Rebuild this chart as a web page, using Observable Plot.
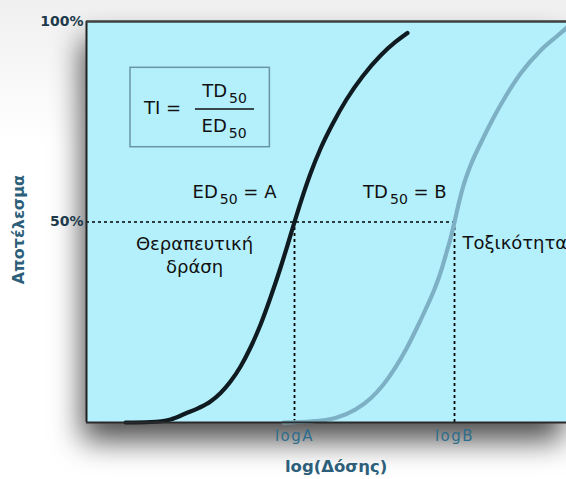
<!DOCTYPE html>
<html>
<head>
<meta charset="utf-8">
<script src="https://cdn.jsdelivr.net/npm/d3@7"></script>
<script src="https://cdn.jsdelivr.net/npm/@observablehq/plot@0.6"></script>
<style>
  html, body { margin: 0; padding: 0; background: #fff; }
  #chart { width: 566px; height: 479px; overflow: hidden; background: linear-gradient(#f0f0f0, #fff 30%); }
  #chart svg { display: block; overflow: hidden; }
  #chart .spaced text { letter-spacing: 1.5px; }
</style>
</head>
<body>
<div id="chart"></div>
<script>
// Log-dose scale: logA = 10, logB = 20 (arbitrary units); effect in percent.
const ed50 = 10;
const td50 = 20;

// Therapeutic effect curve
const effectDose = [-0.56, 1.0, 2.25, 3.19, 4.0, 4.75, 5.38, 6.0, 6.63, 7.25, 7.88, 8.5, 9.13, 9.56, 10, 10.44, 11.0, 11.63, 12.38, 13.25, 14.25, 15.38, 16.31, 17.06];
const effectPct  = [0, 0.12, 0.75, 2.24, 3.59, 5.24, 7.36, 10.22, 13.97, 18.7, 24.44, 31.17, 38.65, 44.14, 50, 55.59, 62.09, 68.33, 74.44, 80.55, 86.28, 91.52, 94.89, 97.13];

// Toxicity curve
const toxDose = [9.31, 11.0, 12.56, 13.81, 14.75, 15.56, 16.31, 17.0, 17.63, 18.19, 18.69, 19.13, 19.5, 19.75, 20, 20.25, 20.56, 21.0, 21.63, 22.38, 23.19, 24.13, 25.38, 26.38, 27.25];
const toxPct  = [0, 0.25, 1.12, 3.24, 5.99, 9.48, 13.72, 18.45, 23.44, 28.18, 32.67, 37.41, 42.39, 45.89, 50, 54.36, 59.1, 64.09, 69.58, 75.56, 81.3, 87.03, 92.77, 96.26, 99.25];

// Axis ticks
const xTicks = [ed50, td50];
const xTickLabels = ["logA", "logB"];
const yTicks = [50, 100];
const yTickLabels = ["50%", "100%"];

// Centred annotations ("_50" is set as a subscript)
const noteText = ["TI =", "TD_50", "ED_50", "ED_50 = A", "TD_50 = B", "Θεραπευτική\nδράση"];
const noteX    = [1.75, 5.63, 5.6, 6.25, 16.9, 3.75];
const noteY    = [78.8, 82.9, 74.2, 57.9, 57.9, 41.9];
// Left-aligned annotation
const toxLabel = {text: "Τοξικότητα", x: 20.5, y: 44.6};

// Formula box and fraction bar
const formulaBox = [{x1: -0.25, x2: 8.46, y1: 68.65, y2: 88.45}];
const fractionBar = {y: 78.2, x1: 3.81, x2: 7.5};

const xMin = -3, xMax = 27;

const effect = effectDose.map((x, i) => ({x, y: effectPct[i]}));
const tox = toxDose.map((x, i) => ({x, y: toxPct[i]}));
const notes = noteText.map((text, i) => ({text, x: noteX[i], y: noteY[i]}));

const font = "'DejaVu Sans', Verdana, sans-serif";

const chart = Plot.plot({
  width: 566,
  height: 479,
  marginLeft: 86,
  marginRight: 0,
  marginTop: 21,
  marginBottom: 57,
  style: {fontFamily: font, fontSize: "16px", background: "transparent", overflow: "hidden"},
  x: {domain: [xMin, xMax]},
  y: {domain: [0, 100]},
  marks: [
    Plot.frame({fill: "#b4f0fc", stroke: null}),
    // 50% reference lines
    Plot.ruleY([50], {x1: xMin, x2: td50, stroke: "#000", strokeWidth: 1.6, strokeDasharray: "3,3"}),
    Plot.ruleX(xTicks, {y1: 0, y2: 50, stroke: "#000", strokeWidth: 1.8, strokeDasharray: "3,3"}),
    // dose-response curves
    Plot.line(tox, {x: "x", y: "y", curve: "monotone-x", stroke: "#7db0c4", strokeWidth: 4.2}),
    Plot.line(effect, {x: "x", y: "y", curve: "monotone-x", stroke: "#0f1b20", strokeWidth: 4.2}),
    // plot border (left, bottom, top)
    Plot.ruleX([xMin], {stroke: "#222", strokeWidth: 2}),
    Plot.ruleY([0], {stroke: "#2a2a2a", strokeWidth: 2}),
    Plot.ruleY([100], {stroke: "#3f3f3f", strokeWidth: 2.5}),
    // therapeutic index formula
    Plot.rect(formulaBox, {x1: "x1", x2: "x2", y1: "y1", y2: "y2", fill: "none", stroke: "#6a95a4", strokeWidth: 1.5}),
    Plot.ruleY([fractionBar.y], {x1: fractionBar.x1, x2: fractionBar.x2, stroke: "#111", strokeWidth: 1.5}),
    Plot.text(notes, {x: "x", y: "y", text: "text", textAnchor: "middle", fill: "#111", fontSize: 18, lineHeight: 1.25}),
    Plot.text([toxLabel], {x: "x", y: "y", text: "text", textAnchor: "start", fill: "#111", fontSize: 18}),
    // axes
    Plot.axisX(xTicks, {tickFormat: d => xTickLabels[xTicks.indexOf(d)], tickSize: 0, tickPadding: 8, fill: "#2e6d8c", fontSize: 15, label: null, className: "spaced"}),
    Plot.axisY(yTicks, {tickFormat: d => yTickLabels[yTicks.indexOf(d)], tickSize: 0, tickPadding: 3, fill: "#1d3b4b", fontSize: 14, fontWeight: "bold", label: null}),
    Plot.text(["log(Δόσης)"], {frameAnchor: "bottom", x: 12.6, dy: 44, textAnchor: "middle", lineAnchor: "middle", fill: "#2d5f7a", fontSize: 16.5, fontWeight: "bold"}),
    Plot.text(["Αποτέλεσμα"], {frameAnchor: "left", y: 48.1, dx: -68, rotate: -90, textAnchor: "middle", lineAnchor: "middle", fill: "#2d5f7a", fontSize: 16, fontWeight: "bold"})
  ]
});

// soft drop shadow under the plotting area
const frameRect = chart.querySelector('[aria-label="frame"]');
if (frameRect) frameRect.style.filter = "drop-shadow(-4px 18px 15px rgba(0,0,0,0.7))";

// turn "_50" into subscripts
const ns = "http://www.w3.org/2000/svg";
chart.querySelectorAll("text").forEach(t => {
  if (t.children.length || !t.textContent.includes("_")) return;
  const parts = t.textContent.split(/_(\d+)/);
  t.textContent = "";
  let shifted = false;
  parts.forEach((p, i) => {
    if (!p) return;
    const s = document.createElementNS(ns, "tspan");
    s.textContent = p;
    if (i % 2) {
      s.setAttribute("dy", "6");
      s.setAttribute("dx", "2");
      s.setAttribute("font-size", "14");
      shifted = true;
    } else if (shifted) {
      s.setAttribute("dy", "-6");
      shifted = false;
    }
    t.appendChild(s);
  });
});

document.getElementById("chart").appendChild(chart);
</script>
</body>
</html>
